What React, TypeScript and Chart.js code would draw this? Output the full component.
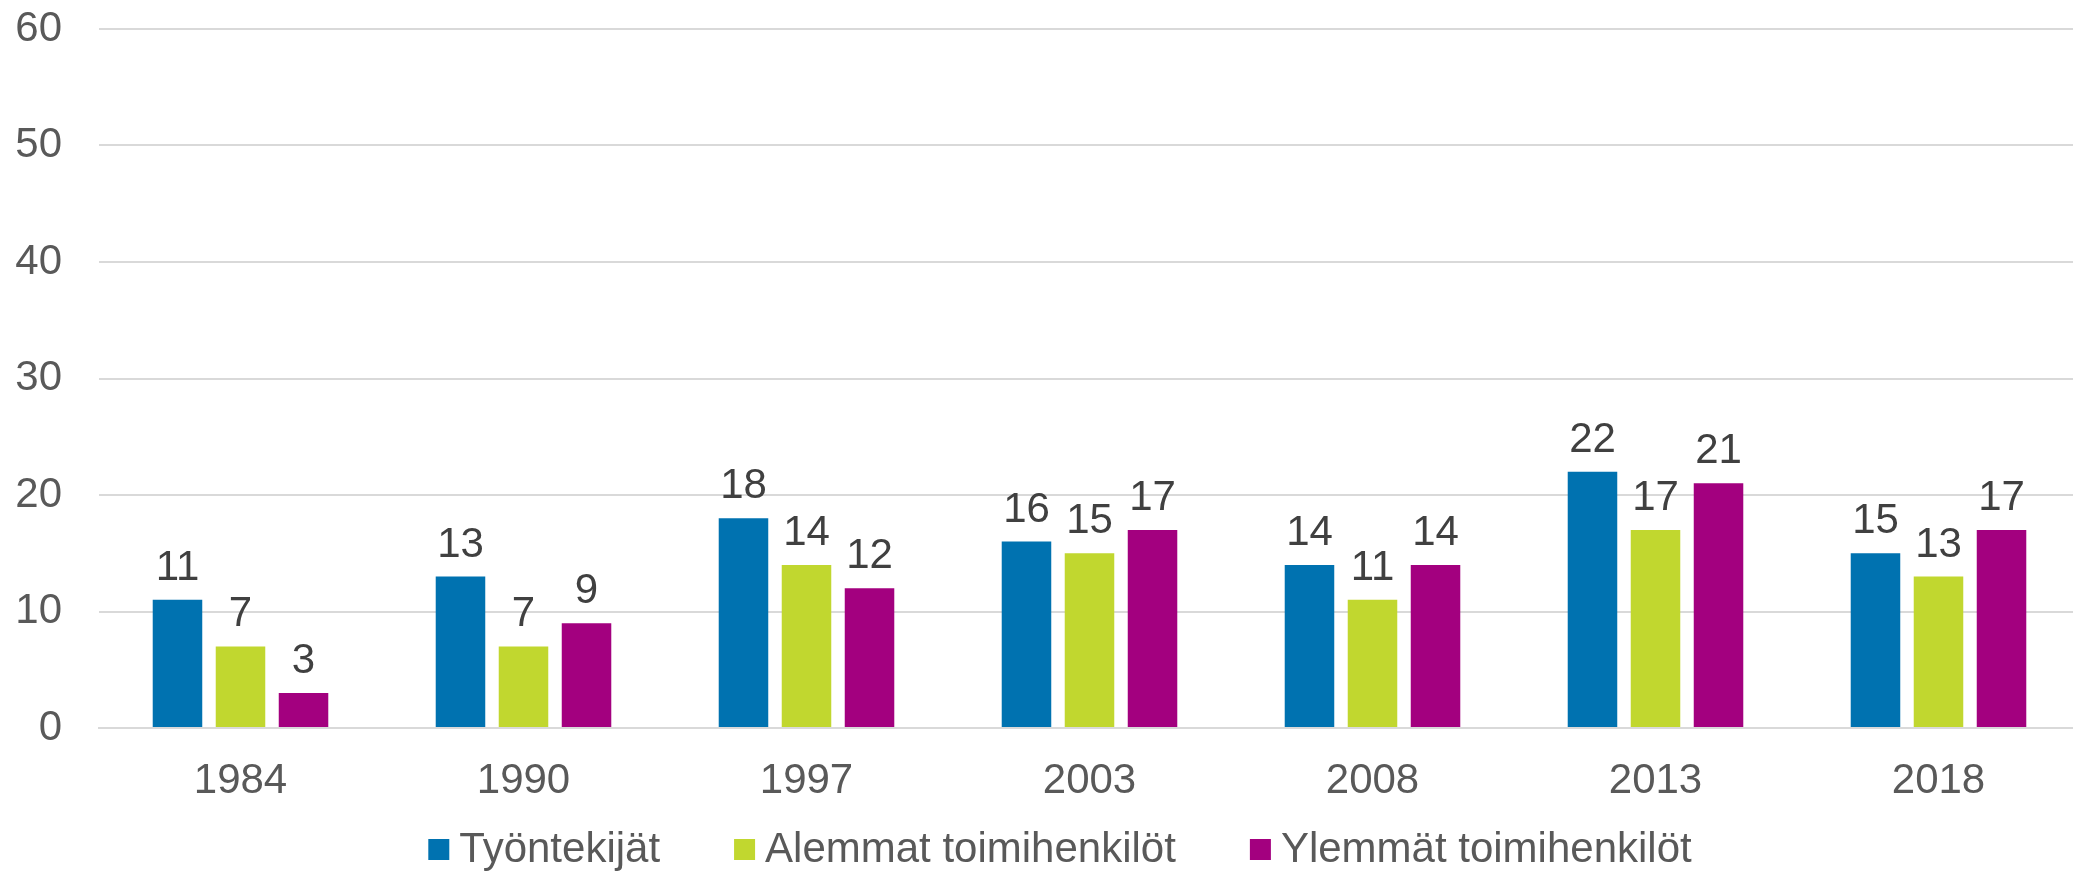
import React, { useEffect, useRef } from "react";
import { Chart, registerables } from "chart.js";

Chart.register(...registerables);

const categories = ["1984", "1990", "1997", "2003", "2008", "2013", "2018"];
const seriesNames = ["Työntekijät", "Alemmat toimihenkilöt", "Ylemmät toimihenkilöt"];
const tyontekijat = [11, 13, 18, 16, 14, 22, 15];
const alemmat = [7, 7, 14, 15, 11, 17, 13];
const ylemmat = [3, 9, 12, 17, 14, 21, 17];
const colors = ["#0072B0", "#C1D72F", "#A3007F"];
const yTicks = [0, 10, 20, 30, 40, 50, 60];

const FONT = "'Liberation Sans', Arial, sans-serif";

const dataLabelPlugin = {
  id: "dataLabels",
  afterDatasetsDraw(chart: any) {
    const ctx = chart.ctx;
    ctx.save();
    ctx.font = `42px ${FONT}`;
    ctx.fillStyle = "#404040";
    ctx.textAlign = "center";
    ctx.textBaseline = "alphabetic";
    chart.data.datasets.forEach((ds: any, di: number) => {
      const meta = chart.getDatasetMeta(di);
      meta.data.forEach((bar: any, i: number) => {
        ctx.fillText(String(ds.data[i]), bar.x, bar.y - 20);
      });
    });
    ctx.restore();
  },
};

const customLegendPlugin = {
  id: "customLegend",
  afterDraw(chart: any) {
    const ctx = chart.ctx;
    ctx.save();
    ctx.font = `42px ${FONT}`;
    const box = 21;
    const gap = 10;
    const spacing = 74;
    const widths = seriesNames.map((n) => ctx.measureText(n).width);
    const total = widths.reduce((a, w) => a + box + gap + w, 0) + spacing * (seriesNames.length - 1);
    let x = 1060 - total / 2;
    const cy = 850;
    seriesNames.forEach((n, i) => {
      ctx.fillStyle = colors[i];
      ctx.fillRect(x, cy - 11, box, box);
      ctx.fillStyle = "#595959";
      ctx.textAlign = "left";
      ctx.textBaseline = "middle";
      ctx.fillText(n, x + box + gap, cy);
      x += box + gap + widths[i] + spacing;
    });
    ctx.restore();
  },
};

export default function App() {
  const ref = useRef<HTMLCanvasElement>(null);
  useEffect(() => {
    const canvas = ref.current!;
    const chart = new Chart(canvas, {
      type: "bar",
      data: {
        labels: categories,
        datasets: [tyontekijat, alemmat, ylemmat].map((d, i) => ({
          label: seriesNames[i],
          data: d,
          backgroundColor: colors[i],
          borderWidth: 0,
          categoryPercentage: 0.668,
          barPercentage: 0.786,
        })),
      },
      options: {
        responsive: false,
        animation: false,
        layout: { autoPadding: false, padding: { left: 8, top: 29, right: 0, bottom: 65 } },
        plugins: {
          legend: { display: false },
          tooltip: { enabled: false },
        },
        scales: {
          x: {
            grid: { display: false, drawTicks: false },
            border: { display: true, color: "#D9D9D9", width: 2 },
            afterFit: (scale: any) => {
              scale.height = 78;
              scale.paddingLeft = 0;
              scale.paddingRight = 0;
            },
            ticks: {
              color: "#595959",
              font: { family: FONT, size: 42 },
              padding: 28,
            },
          },
          y: {
            min: 0,
            max: 60,
            afterBuildTicks: (scale: any) => {
              scale.ticks = yTicks.map((v) => ({ value: v }));
            },
            afterFit: (scale: any) => {
              scale.width = 91;
              scale.paddingTop = 0;
              scale.paddingBottom = 0;
            },
            grid: { color: "#D9D9D9", lineWidth: 2, drawTicks: false },
            border: { display: false },
            ticks: {
              color: "#595959",
              font: { family: FONT, size: 42, lineHeight: 1 },
              padding: 37,
            },
          },
        },
      },
      plugins: [dataLabelPlugin, customLegendPlugin],
    });
    return () => chart.destroy();
  }, []);
  return (
    <div
      style={{
        position: "absolute",
        left: 0,
        top: 0,
        width: 2073,
        height: 871,
        overflow: "hidden",
        background: "#fff",
      }}
    >
      <canvas ref={ref} width={2080} height={871} style={{ display: "block" }} />
    </div>
  );
}
